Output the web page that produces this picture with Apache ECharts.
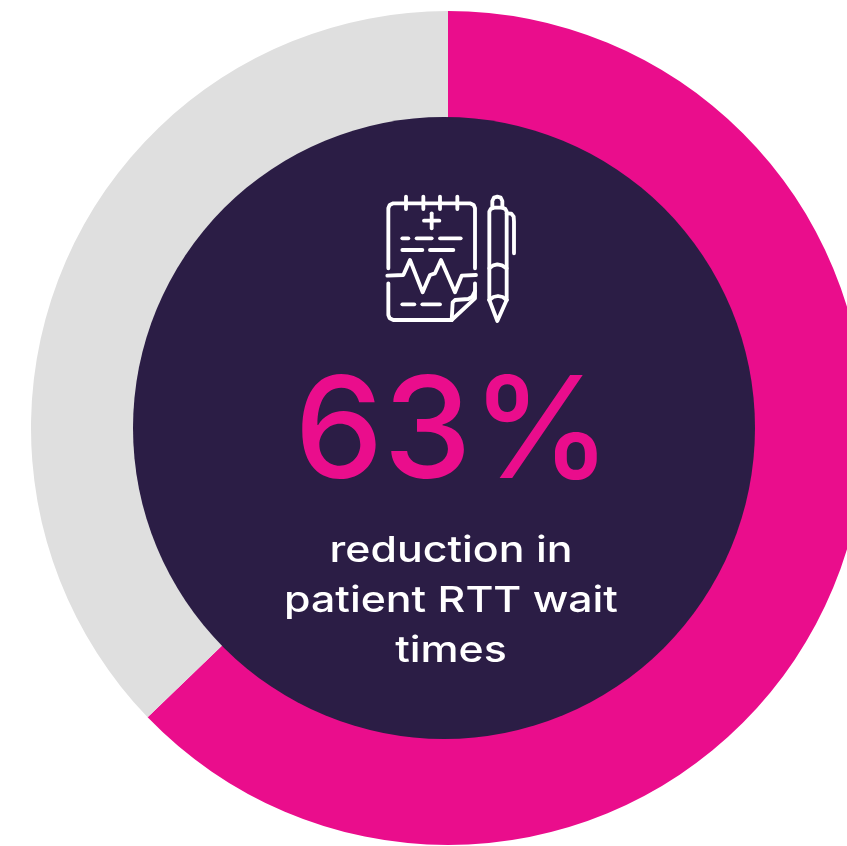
<!DOCTYPE html>
<html><head><meta charset="utf-8">
<style>html,body{margin:0;padding:0;background:#fff}#c{width:847px;height:846px}</style>
<script src="https://cdn.jsdelivr.net/npm/echarts@6/dist/echarts.min.js"></script>
</head><body><div id="c"></div>
<script>
const categories = ['Reduction', 'Remainder'];
const values = [62.8, 37.2];
const headline = '63%';
const captionLines = ['reduction in', 'patient RTT wait', 'times'];

const PINK = '#EA0D8C', GREY = '#DFDFDF', DARK = '#2B1D45';

// icon strokes, in a 480x450 local box
const iconLines = [
  [[55,250],[55,70],[59,60],[70,55],[300,55],[311,60],[315,70],[315,250]],
  [[108,35],[108,72]],[[160,35],[160,72]],[[210,35],[210,72]],[[262,35],[262,72]],
  [[185,85],[185,130]],[[162,107],[208,107]],
  [[97,160],[115,160]],[[140,160],[185,160]],[[210,160],[272,160]],
  [[97,195],[157,195]],[[180,195],[250,195]],
  [[52,272],[100,270],[120,225],[158,322],[180,270],[195,265],[213,225],[255,322],[275,272],[318,270]],
  [[55,295],[55,390],[59,400],[70,405],[245,405]],
  [[315,295],[315,340],[245,405]],
  [[245,405],[248,352],[255,345],[295,342],[307,335],[315,318]],
  [[97,358],[133,358]],[[157,358],[210,358]],
  [[358,345],[358,80],[362,72],[372,68],[398,68],[406,72],[410,80],[410,345]],
  [[367,68],[367,48],[372,38],[382,35],[392,38],[397,48],[397,68]],
  [[410,85],[424,86],[431,95],[432,110],[432,205]],
  [[358,250],[370,241],[382,238],[396,241],[410,250]],
  [[358,345],[370,336],[384,333],[398,336],[410,345]],
  [[358,345],[382,408],[410,345]]
];

const chart = echarts.init(document.getElementById('c'), null, {renderer:'canvas'});
chart.setOption({
  animation:false,
  backgroundColor:'#fff',
  series:[
    {type:'pie',silent:true,center:[448,428],radius:[0,417],startAngle:90,clockwise:true,
     label:{show:false},labelLine:{show:false},
     data:categories.map((n,i)=>({name:n,value:values[i],itemStyle:{color:i===0?PINK:GREY}}))},
    {type:'pie',silent:true,center:[444,428],radius:[0,311],label:{show:false},labelLine:{show:false},
     data:[{name:'centre',value:1,itemStyle:{color:DARK}}]}
  ],
  graphic:[
    {type:'group',x:370,y:185,scaleX:1/3,scaleY:1/3,
     children:iconLines.map(p=>({type:'polyline',z:10,shape:{points:p},
       style:{fill:null,stroke:'#fff',lineWidth:11.5,lineCap:'round',lineJoin:'round'}}))},
    {type:'text',z:10,x:453,y:436,scaleX:1.0,
     style:{text:headline,fill:PINK,font:'500 141px Inter',textAlign:'center',textVerticalAlign:'middle'}},
    ...captionLines.map((t,i)=>({type:'text',z:10,x:451,y:551+i*50,scaleX:1.19,
     style:{text:t,fill:'#fff',font:'500 36px Inter',textAlign:'center',textVerticalAlign:'middle'}}))
  ]
});
</script></body></html>
